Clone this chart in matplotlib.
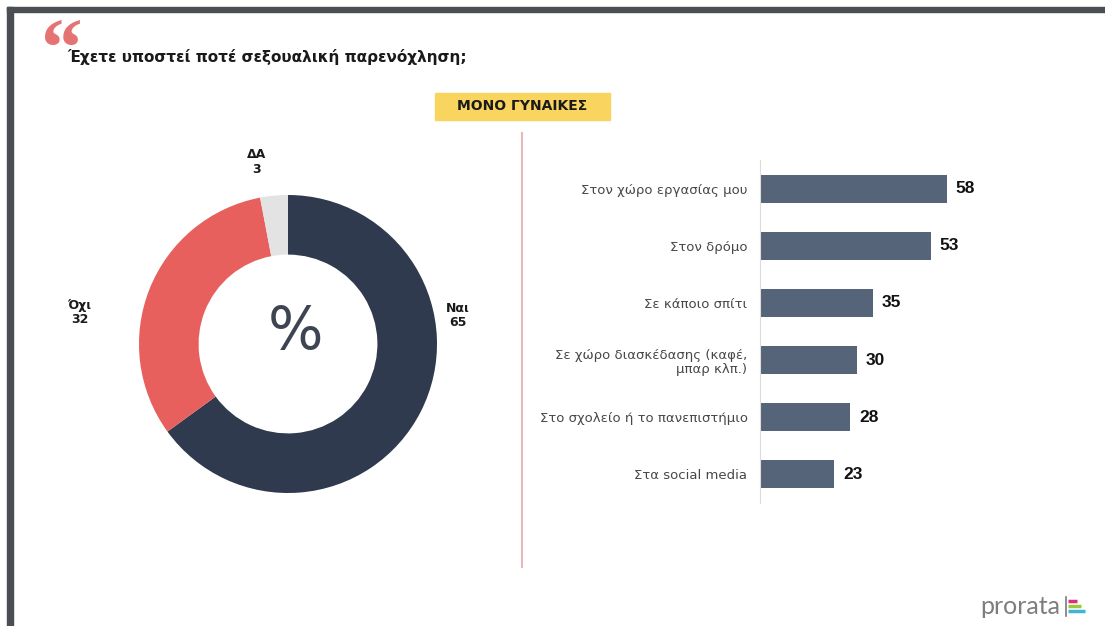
import matplotlib.pyplot as plt
from matplotlib.patches import Rectangle
from matplotlib.lines import Line2D

# survey answers (women only)
pie_labels = ['Ναι', 'Όχι', 'ΔΑ']
pie_values = [65, 32, 3]
pie_colors = ['#2f3a4f', '#e8605e', '#e3e3e3']

places = ['Στον χώρο εργασίας μου', 'Στον δρόμο', 'Σε κάποιο σπίτι',
          'Σε χώρο διασκέδασης (καφέ,\nμπαρ κλπ.)',
          'Στο σχολείο ή το πανεπιστήμιο', 'Στα social media']
place_values = [58, 53, 35, 30, 28, 23]

W, H = 1105, 626
fig = plt.figure(figsize=(W / 100, H / 100), dpi=100)
fig.patch.set_facecolor('white')

def px(x0, y0, x1, y1):
    # pixel box (top-left origin) -> figure fraction rect
    return [x0 / W, 1 - y1 / H, (x1 - x0) / W, (y1 - y0) / H]

# slide frame
fig.patches.append(Rectangle((7 / W, 1 - 12 / H), 1, 5 / H, transform=fig.transFigure,
                             color='#4b4e53', zorder=0))
fig.patches.append(Rectangle((7 / W, 0), 6 / W, 1 - 7 / H, transform=fig.transFigure,
                             color='#4b4e53', zorder=0))

# quote mark + title
fig.text(41 / W, 1 - 18 / H, '\u201c', fontsize=60, fontweight='bold', family='Liberation Serif',
         color='#e57373', ha='left', va='top')
fig.text(67 / W, 1 - 57 / H, 'Έχετε υποστεί ποτέ σεξουαλική παρενόχληση;', fontsize=11,
         fontweight='bold', family='DejaVu Sans', color='#1a1a1a', ha='left', va='center')

# yellow tag
fig.patches.append(Rectangle((435 / W, 1 - 120 / H), 175 / W, 27 / H, transform=fig.transFigure,
                             color='#f9d45e', zorder=1))
fig.text(522 / W, 1 - 106 / H, 'ΜΟΝΟ ΓΥΝΑΙΚΕΣ', fontsize=10, fontweight='bold',
         color='#1a1a1a', ha='center', va='center', zorder=2)

# divider
fig.lines.append(Line2D([522 / W, 522 / W], [1 - 133 / H, 1 - 567 / H], transform=fig.transFigure,
                        color='#e9b8bb', lw=1.5))

# donut
ax = fig.add_axes(px(139, 195, 437, 493))
ax.pie(pie_values, colors=pie_colors, startangle=90, counterclock=False, radius=1,
       wedgeprops=dict(width=0.4, edgecolor='none'))
ax.set_xlim(-1, 1)
ax.set_ylim(-1, 1)
ax.set_aspect('equal')
ax.axis('off')
ax.text(0.05, 0.08, '%', fontsize=42, color='#3e4451', ha='center', va='center')

label_pos = [(1.14, 0.19), (-1.40, 0.21), (-0.21, 1.22)]
for lab, val, (lx, ly) in zip(pie_labels, pie_values, label_pos):
    ax.text(lx, ly, f'{lab}\n{val}', fontsize=9, fontweight='bold', color='#1a1a1a',
            ha='center', va='center', linespacing=1.15, clip_on=False)

# bars
bx = fig.add_axes(px(760, 160, 1060, 503))
y = range(len(places))
bx.barh(y, place_values, height=0.49, color='#56647a')
bx.set_xlim(0, 300 / 3.22)
bx.set_ylim(len(places) - 0.5, -0.5)
bx.set_yticks(list(y))
bx.set_yticklabels(places, fontsize=9.5, color='#474747', linespacing=1.1)
bx.tick_params(axis='y', length=0, pad=9)
bx.set_xticks([])
for s in ['top', 'right', 'bottom']:
    bx.spines[s].set_visible(False)
bx.spines['left'].set_color('#dcdcdc')
bx.set_facecolor('none')
for i, v in enumerate(place_values):
    bx.text(v + 2.8, i, str(v), fontsize=12.5, fontweight='bold', family='Liberation Sans',
            color='#111111', ha='left', va='center')

# logo
fig.text(1060 / W, 1 - 606 / H, 'prorata', fontsize=18, family='Lato',
         color='#7d7d7d', ha='right', va='center')
fig.lines.append(Line2D([1066 / W, 1066 / W], [1 - 597 / H, 1 - 616 / H], transform=fig.transFigure,
                        color='#7a7a7a', lw=1.2))
for yy, x1, c in [(601, 1077, '#d8307a'), (606, 1081, '#9bc83c'), (611, 1085, '#3fb4d9')]:
    fig.lines.append(Line2D([1068 / W, x1 / W], [1 - yy / H, 1 - yy / H], transform=fig.transFigure,
                            color=c, lw=2.5, solid_capstyle='butt'))

fig.savefig('out.png', dpi=100)
